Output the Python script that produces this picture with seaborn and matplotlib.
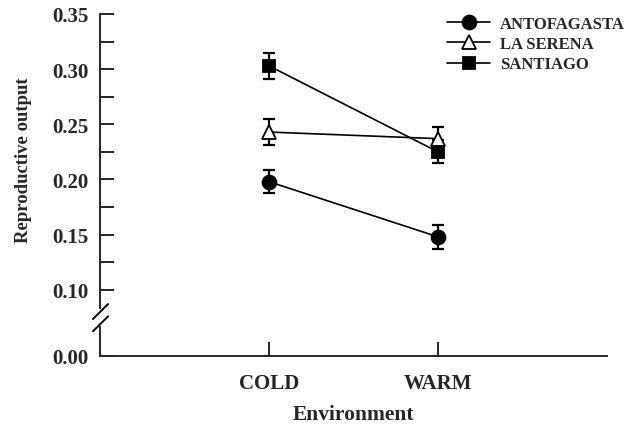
import numpy as np
import pandas as pd
import seaborn as sns
import matplotlib.pyplot as plt

# values
environments = ["COLD", "WARM"]
sites = ["ANTOFAGASTA", "LA SERENA", "SANTIAGO"]
antofagasta = [0.198, 0.148]
antofagasta_se = [0.0105, 0.011]
la_serena = [0.243, 0.237]
la_serena_se = [0.0115, 0.011]
santiago = [0.303, 0.225]
santiago_se = [0.0115, 0.0105]

y_major = [0.00, 0.10, 0.15, 0.20, 0.25, 0.30, 0.35]
y_minor = [0.125, 0.175, 0.225, 0.275, 0.325]

sns.set_style("ticks")
plt.rcParams["font.family"] = ["Liberation Serif", "DejaVu Serif"]
plt.rcParams["font.weight"] = "bold"
plt.rcParams["axes.labelweight"] = "bold"

env_pos = np.arange(len(environments)) + 1
df = pd.DataFrame({
    "site": np.repeat(sites, len(environments)),
    "env": np.tile(env_pos, len(sites)),
    "value": antofagasta + la_serena + santiago,
    "se": antofagasta_se + la_serena_se + santiago_se,
})

# broken axis: squeeze everything below 0.10
squeeze = 0.6
def forward(y):
    y = np.asarray(y, dtype=float)
    return np.where(y >= 0.1, y, 0.1 - (0.1 - y) * squeeze)

def inverse(y):
    y = np.asarray(y, dtype=float)
    return np.where(y >= 0.1, y, 0.1 - (0.1 - y) / squeeze)

fig = plt.figure(figsize=(6.29, 4.27), dpi=100)
ax = fig.add_axes([100 / 629, 1 - 357 / 427, 507 / 629, 342 / 427])
ax.set_yscale("function", functions=(forward, inverse))

styles = {
    "ANTOFAGASTA": dict(marker="o", markerfacecolor="black", markersize=10),
    "LA SERENA": dict(marker="^", markerfacecolor="white", markersize=9.5),
    "SANTIAGO": dict(marker="s", markerfacecolor="black", markersize=8.5),
}

for site in sites:
    sub = df[df["site"] == site]
    ax.errorbar(sub["env"], sub["value"], yerr=sub["se"], fmt="none",
                ecolor="black", elinewidth=1.6, capsize=4.5, capthick=1.6, zorder=2)
    sns.lineplot(data=sub, x="env", y="value", color="black", linewidth=1.2,
                 markeredgecolor="black", markeredgewidth=1.3, label=site,
                 ax=ax, zorder=3, **styles[site])

ax.set_xlim(0, 3)
ax.set_ylim(0.0, 0.35)
ax.set_xticks(env_pos)
ax.set_xticklabels(environments)
ax.set_yticks(y_major)
ax.set_yticklabels([f"{v:.2f}" for v in y_major])
ax.set_yticks(y_minor, minor=True)

ax.tick_params(axis="both", which="both", direction="in", length=10, width=1.4,
               labelsize=15)
ax.tick_params(axis="y", pad=8)
ax.tick_params(axis="x", pad=12)
for lab in ax.get_xticklabels() + ax.get_yticklabels():
    lab.set_fontweight("bold")

sns.despine(ax=ax)
for sp in ["left", "bottom"]:
    ax.spines[sp].set_linewidth(1.4)

ax.set_xlabel("Environment", fontsize=15.5, fontweight="bold", labelpad=8)
ax.set_ylabel("Reproductive output", fontsize=13.5, fontweight="bold")
ax.yaxis.set_label_coords(-0.135, 0.575)

# break marks on the y axis
ax.plot([0, 0], [0.093, 0.131], transform=ax.transAxes, color="white",
        linewidth=3, clip_on=False, zorder=5)
for y0 in [0.072, 0.108]:
    ax.plot([-0.014, 0.016], [y0, y0 + 0.044], transform=ax.transAxes,
            color="black", linewidth=1.4, clip_on=False, zorder=6)

leg = ax.legend(loc="upper left", bbox_to_anchor=(447 / 629, 1 - 17 / 427),
                bbox_transform=fig.transFigure, frameon=False, borderpad=0,
                borderaxespad=0, handlelength=2.6, handletextpad=0.6,
                labelspacing=0.25, prop={"size": 12, "weight": "bold"})

fig.savefig("out.png", dpi=100)
